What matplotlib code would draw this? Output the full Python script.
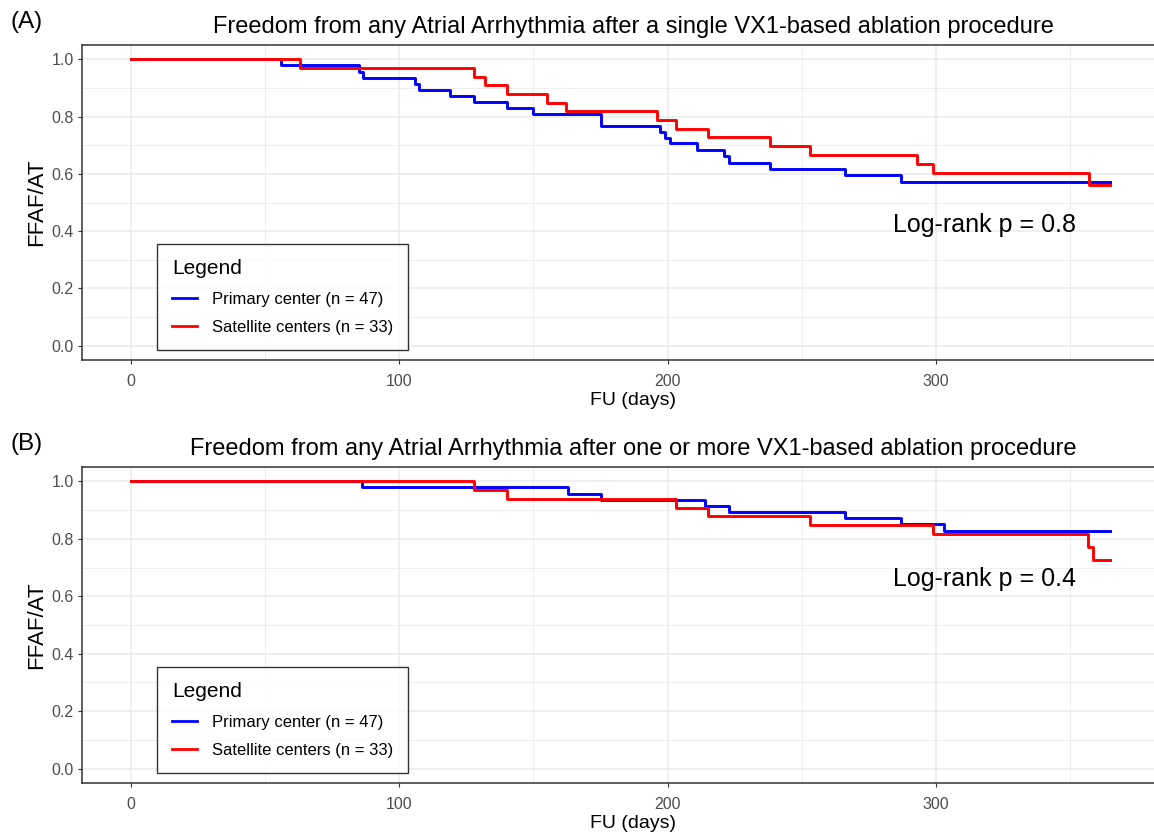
import numpy as np
import matplotlib
matplotlib.use("Agg")
import matplotlib.pyplot as plt
from matplotlib.lines import Line2D

plt.rcParams["font.family"] = ["Liberation Sans", "DejaVu Sans"]

# Panel A: single procedure
a_primary_t = [0, 56, 85, 86.5, 106, 107.5, 119, 128, 140, 150, 175, 197, 199, 201,
               211, 221, 223, 238, 266, 287, 365]
a_primary_s = [1.0, 0.979, 0.957, 0.936, 0.915, 0.894, 0.872, 0.851, 0.830, 0.809,
               0.766, 0.745, 0.726, 0.707, 0.683, 0.662, 0.638, 0.617, 0.595, 0.570, 0.570]
a_satellite_t = [0, 63, 128, 132, 140, 155, 162, 196, 203, 215, 238, 253, 293, 299, 357, 365]
a_satellite_s = [1.0, 0.970, 0.939, 0.909, 0.879, 0.848, 0.818, 0.788, 0.758, 0.727,
                 0.697, 0.667, 0.636, 0.602, 0.560, 0.560]

# Panel B: one or more procedures
b_primary_t = [0, 86, 163, 175, 214, 223, 266, 287, 303, 365]
b_primary_s = [1.0, 0.979, 0.957, 0.936, 0.915, 0.894, 0.872, 0.851, 0.826, 0.826]
b_satellite_t = [0, 128, 140, 203, 215, 253, 299, 356.5, 358.5, 365]
b_satellite_s = [1.0, 0.970, 0.939, 0.909, 0.879, 0.848, 0.818, 0.773, 0.728, 0.728]

titles = ["Freedom from any Atrial Arrhythmia after a single VX1-based ablation procedure",
          "Freedom from any Atrial Arrhythmia after one or more VX1-based ablation procedure"]
pvals = ["Log-rank p = 0.8", "Log-rank p = 0.4"]
labels = ["Primary center (n = 47)", "Satellite centers (n = 33)"]
panel_tags = ["(A)", "(B)"]

W, H = 1154, 832
fig = plt.figure(figsize=(W / 100, H / 100), dpi=100)

# axes boxes in pixels: left, top, right, bottom (right edge runs past the image)
boxes = [(82, 45, 1185, 360), (82, 467, 1185, 783)]
data = [(a_primary_t, a_primary_s, a_satellite_t, a_satellite_s),
        (b_primary_t, b_primary_s, b_satellite_t, b_satellite_s)]

for i, (l, t, r, b) in enumerate(boxes):
    ax = fig.add_axes([l / W, 1 - b / H, (r - l) / W, (b - t) / H])
    pt, ps, st, ss = data[i]
    ax.step(pt, ps, where="post", color="#0000FF", lw=2.1, zorder=3)
    ax.step(st, ss, where="post", color="#FF0000", lw=2.1, zorder=4)

    ax.set_xlim(-18.26, 392.8)
    ax.set_ylim(-0.05, 1.05)
    ax.set_xticks([0, 100, 200, 300])
    ax.set_yticks([0.0, 0.2, 0.4, 0.6, 0.8, 1.0])
    ax.set_yticklabels(["0.0", "0.2", "0.4", "0.6", "0.8", "1.0"])
    ax.set_xticks([50, 150, 250, 350], minor=True)
    ax.set_yticks([0.1, 0.3, 0.5, 0.7, 0.9], minor=True)
    ax.grid(which="major", color="#EBEBEB", lw=1.1, zorder=0)
    ax.grid(which="minor", color="#EBEBEB", lw=0.6, zorder=0)
    ax.tick_params(which="minor", length=0)
    ax.tick_params(which="major", length=3, color="#333333", labelsize=11.5,
                   labelcolor="#4D4D4D")
    ax.tick_params(axis="x", pad=7)
    ax.tick_params(axis="y", pad=3)
    for sp in ax.spines.values():
        sp.set_color("#333333")
        sp.set_linewidth(1.1)
    ax.set_axisbelow(True)

    ax.set_xlabel("FU (days)", fontsize=14, labelpad=2)
    ax.set_ylabel("FFAF/AT", fontsize=16, labelpad=3)
    ax.set_title(titles[i], fontsize=17, pad=9)

    ax.text(318, 0.42 if i == 0 else 0.66, pvals[i], fontsize=18, ha="center", va="center")

    handles = [Line2D([], [], color="#0000FF", lw=2), Line2D([], [], color="#FF0000", lw=2)]
    leg = ax.legend(handles, labels, title="Legend", loc="lower left",
                    bbox_to_anchor=(0.068, 0.032), fontsize=12, title_fontsize=15,
                    frameon=True, fancybox=False, handlelength=1.5, borderpad=0.9,
                    labelspacing=0.8, handletextpad=0.9, borderaxespad=0)
    leg._legend_box.align = "left"
    leg.get_frame().set_edgecolor("black")
    leg.get_frame().set_linewidth(1.0)

    fig.text(10 / W, 1 - (t - 23) / H, panel_tags[i], fontsize=17.5, ha="left", va="center")

fig.savefig("out.png", dpi=100)
